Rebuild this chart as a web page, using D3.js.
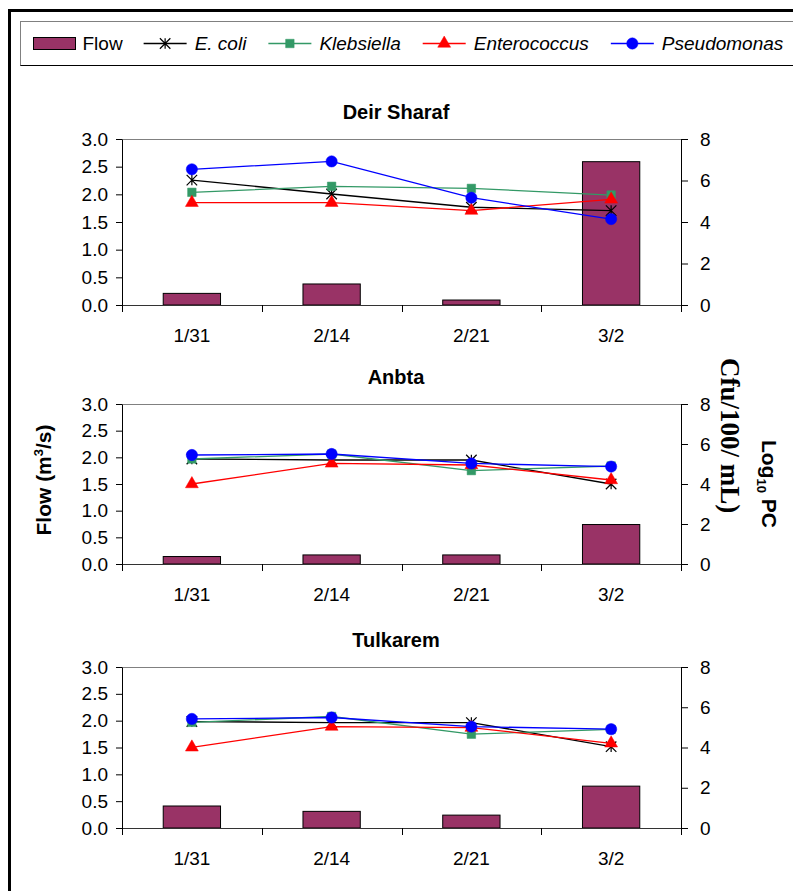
<!DOCTYPE html>
<html>
<head>
<meta charset="utf-8">
<script src="https://cdn.jsdelivr.net/npm/d3@7"></script>
<style>
  body { margin: 0; background: #fff; }
  svg { display: block; }
  text { font-family: "Liberation Sans", Arial, sans-serif; fill: #000; }
</style>
</head>
<body>
<div id="chart"></div>
<script>
// sampling dates and sites
const dates = ["1/31", "2/14", "2/21", "3/2"];
const sites = ["Deir Sharaf", "Anbta", "Tulkarem"];

// flow (m3/s), one row per site
const flow = [
  [0.21, 0.38, 0.09, 2.59],
  [0.14, 0.17, 0.17, 0.74],
  [0.41, 0.31, 0.24, 0.78],
];

// log10 PC (cfu/100 mL), one row per site
const eColi = [
  [6.02, 5.35, 4.71, 4.55],
  [5.25, 5.2, 5.2, 4.0],
  [5.29, 5.24, 5.24, 4.04],
];
const klebsiella = [
  [5.43, 5.72, 5.62, 5.3],
  [5.25, 5.5, 4.67, 4.9],
  [5.25, 5.54, 4.66, 4.9],
];
const enterococcus = [
  [4.93, 4.93, 4.55, 5.09],
  [4.0, 5.03, 4.95, 4.2],
  [4.01, 5.04, 4.99, 4.21],
];
const pseudomonas = [
  [6.54, 6.92, 5.17, 4.14],
  [5.45, 5.5, 5.03, 4.87],
  [5.42, 5.49, 5.04, 4.91],
];

const flowTicks = [0, 0.5, 1, 1.5, 2, 2.5, 3];
const logTicks = [0, 2, 4, 6, 8];

const W = 793, H = 891;
const plotLeft = 122, plotRight = 681;
const panelBox = [
  { top: 139, bottom: 305 },
  { top: 404, bottom: 564 },
  { top: 667, bottom: 828 },
];
const flowColor = "#993366";

// Excel style star marker: an x with a vertical bar
const symbolStar = {
  draw(ctx, size) {
    const r = Math.sqrt(size) / 2;
    ctx.moveTo(-r, -r); ctx.lineTo(r, r);
    ctx.moveTo(-r, r); ctx.lineTo(r, -r);
    ctx.moveTo(0, -r); ctx.lineTo(0, r);
  },
};

const series = [
  { name: "E. coli", values: eColi, color: "#000000", symbol: symbolStar, size: 110, hollow: true },
  { name: "Klebsiella", values: klebsiella, color: "#339966", symbol: d3.symbolSquare, size: 72 },
  { name: "Enterococcus", values: enterococcus, color: "#ff0000", symbol: d3.symbolTriangle, size: 72 },
  { name: "Pseudomonas", values: pseudomonas, color: "#0000ff", symbol: d3.symbolCircle, size: 100 },
];

const svg = d3.select("#chart").append("svg")
  .attr("width", W).attr("height", H);

// outer frame (runs off the right and bottom edges)
svg.append("rect")
  .attr("x", 9.5).attr("y", 10.5)
  .attr("width", W + 20).attr("height", H + 20)
  .attr("fill", "none").attr("stroke", "#000").attr("stroke-width", 3);

function drawMarker(sel, s) {
  sel.attr("d", d3.symbol().type(s.symbol).size(s.size))
    .attr("fill", s.hollow ? "none" : s.color)
    .attr("stroke", s.color)
    .attr("stroke-width", s.hollow ? 1.2 : 0.5);
}

// legend
const lg = svg.append("g").attr("font-size", 19);
lg.append("rect")
  .attr("x", 20.5).attr("y", 21.5)
  .attr("width", W).attr("height", 44)
  .attr("fill", "#fff").attr("stroke", "#808080");
lg.append("line")
  .attr("x1", 20.5).attr("x2", W).attr("y1", 65.5).attr("y2", 65.5)
  .attr("stroke", "#000");

lg.append("rect")
  .attr("x", 33.5).attr("y", 37.5).attr("width", 42).attr("height", 12)
  .attr("fill", flowColor).attr("stroke", "#000");
const flowLabel = lg.append("text").attr("x", 82.5).attr("y", 50).text("Flow");
let cursor = 82.5 + flowLabel.node().getComputedTextLength() + 21;

series.forEach((s) => {
  const item = lg.append("g");
  item.append("line")
    .attr("x1", cursor).attr("x2", cursor + 43)
    .attr("y1", 43.5).attr("y2", 43.5)
    .attr("stroke", s.color).attr("stroke-width", 1.3);
  item.append("path")
    .attr("transform", `translate(${cursor + 21.5},43.5)`)
    .call(drawMarker, s);
  const t = item.append("text")
    .attr("x", cursor + 51).attr("y", 50)
    .attr("font-style", "italic")
    .text(s.name);
  cursor = cursor + 51 + t.node().getComputedTextLength() + 22;
});

// one panel per site
sites.forEach((site, i) => {
  const { top, bottom } = panelBox[i];
  const g = svg.append("g");

  const x = d3.scaleBand()
    .domain(dates)
    .range([plotLeft, plotRight])
    .paddingInner(0.59)
    .paddingOuter(0.295);
  const yFlow = d3.scaleLinear().domain([0, 3]).range([bottom, top]);
  const yLog = d3.scaleLinear().domain([0, 8]).range([bottom, top]);

  // plot area top edge
  g.append("line")
    .attr("x1", plotLeft).attr("x2", plotRight)
    .attr("y1", top + 0.5).attr("y2", top + 0.5)
    .attr("stroke", "#808080");

  // flow bars
  g.selectAll("rect.bar")
    .data(dates.map((d, j) => ({ date: d, v: flow[i][j] })))
    .join("rect")
    .attr("class", "bar")
    .attr("x", (d) => x(d.date))
    .attr("width", x.bandwidth())
    .attr("y", (d) => yFlow(d.v))
    .attr("height", (d) => yFlow(0) - yFlow(d.v))
    .attr("fill", flowColor)
    .attr("stroke", "#000")
    .attr("stroke-width", 1);

  // bacteria series
  const line = d3.line()
    .x((d) => x(d.date) + x.bandwidth() / 2)
    .y((d) => yLog(d.v));

  series.forEach((s) => {
    const pts = dates.map((d, j) => ({ date: d, v: s.values[i][j] }));
    g.append("path")
      .attr("d", line(pts))
      .attr("fill", "none")
      .attr("stroke", s.color)
      .attr("stroke-width", 1.3);
    g.selectAll(null)
      .data(pts)
      .join("path")
      .attr("transform", (d) => `translate(${x(d.date) + x.bandwidth() / 2},${yLog(d.v)})`)
      .call(drawMarker, s);
  });

  // left axis
  g.append("g")
    .attr("transform", `translate(${plotLeft},0)`)
    .call(d3.axisLeft(yFlow).tickValues(flowTicks).tickFormat(d3.format(".1f"))
      .tickSize(6).tickSizeOuter(0).tickPadding(8))
    .call((a) => a.selectAll("text").attr("font-size", 19).attr("font-family", null))
    .call((a) => a.selectAll("line,path").attr("stroke", "#000"));

  // right axis
  g.append("g")
    .attr("transform", `translate(${plotRight},0)`)
    .call(d3.axisRight(yLog).tickValues(logTicks)
      .tickSize(7).tickSizeOuter(0).tickPadding(12))
    .call((a) => a.selectAll("text").attr("font-size", 19).attr("font-family", null))
    .call((a) => a.selectAll("line,path").attr("stroke", "#000"));

  // category axis: labels centred in each slot, ticks on slot edges
  g.append("g")
    .attr("transform", `translate(0,${bottom})`)
    .call(d3.axisBottom(x).tickSize(0).tickPadding(24))
    .call((a) => a.select(".domain").remove())
    .call((a) => a.selectAll("text").attr("font-size", 19).attr("font-family", null));

  const edges = dates.map((d) => x(d) - (x.step() - x.bandwidth()) / 2).concat([plotRight]);
  g.append("line")
    .attr("x1", plotLeft).attr("x2", plotRight)
    .attr("y1", bottom + 0.5).attr("y2", bottom + 0.5)
    .attr("stroke", "#333");
  g.selectAll("line.edge")
    .data(edges)
    .join("line")
    .attr("class", "edge")
    .attr("x1", (d) => Math.round(d) + 0.5).attr("x2", (d) => Math.round(d) + 0.5)
    .attr("y1", bottom).attr("y2", bottom + 7)
    .attr("stroke", "#000");

  g.append("text")
    .attr("x", 396).attr("y", top - 20)
    .attr("text-anchor", "middle")
    .attr("font-size", 20).attr("font-weight", "bold")
    .text(site);
});

// left axis title
const flowTitle = svg.append("text")
  .attr("transform", "translate(51,480) rotate(-90)")
  .attr("text-anchor", "middle")
  .attr("font-size", 21).attr("font-weight", "bold");
flowTitle.append("tspan").text("Flow (m");
flowTitle.append("tspan").attr("dy", -8).attr("font-size", 13).text("3");
flowTitle.append("tspan").attr("dy", 8).text("/s)");

// right axis title, two rotated lines
const logTitle = svg.append("text")
  .attr("transform", "translate(762,440) rotate(90)")
  .attr("font-size", 21).attr("font-weight", "bold");
logTitle.append("tspan").text("Log");
logTitle.append("tspan").attr("dy", 5).attr("font-size", 13).text("10");
logTitle.append("tspan").attr("dy", -5).text(" PC");

svg.append("text")
  .attr("transform", "translate(721,358) rotate(90)")
  .attr("font-size", 27).attr("font-weight", "bold")
  .style("font-family", "'Liberation Serif', 'Times New Roman', serif")
  .text("Cfu/100/ mL)");
</script>
</body>
</html>
